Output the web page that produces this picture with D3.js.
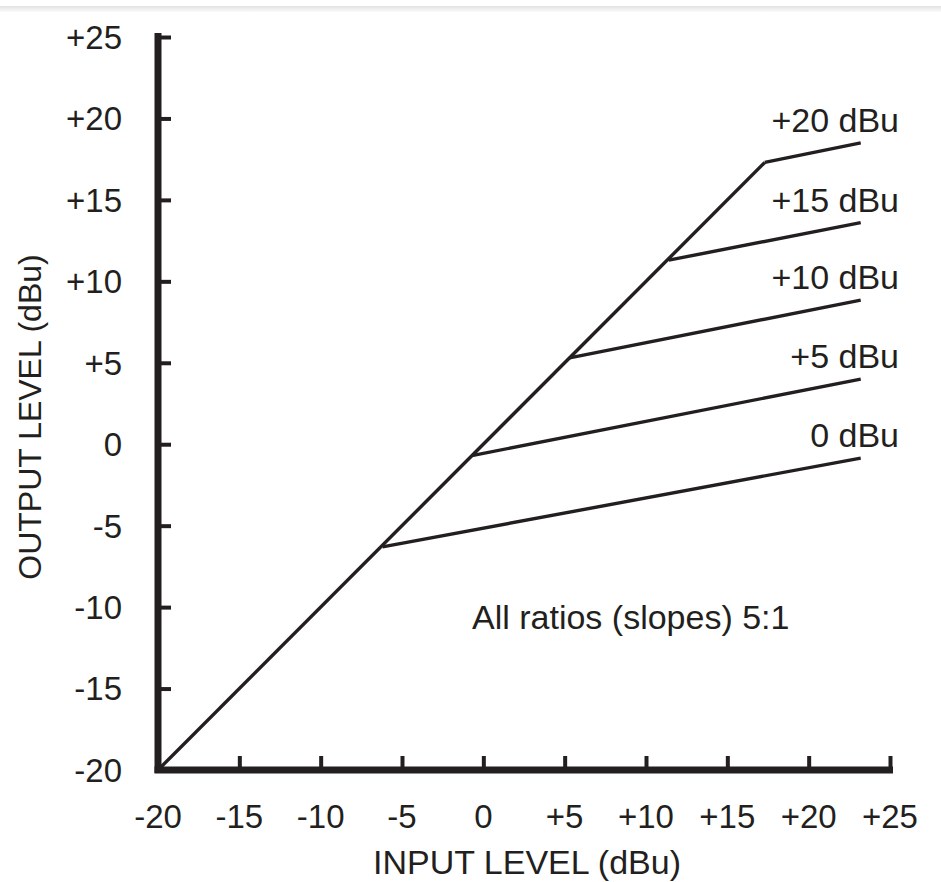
<!DOCTYPE html>
<html>
<head>
<meta charset="utf-8">
<script src="https://cdn.jsdelivr.net/npm/d3@7"></script>
<style>
  html, body { margin: 0; padding: 0; background: #fff; }
  svg { display: block; font-family: "Liberation Sans", Arial, sans-serif; }
</style>
</head>
<body>
<div id="chart"></div>
<script>
// 阈值曲线数据
const curveLabels = ['0 dBu', '+5 dBu', '+10 dBu', '+15 dBu', '+20 dBu'];
const kneeIn = [-6.2, -0.7, 5.3, 11.4, 17.3];
const kneeOut = [-6.3, -0.7, 5.3, 11.3, 17.3];
const endIn = [23.2, 23.2, 23.2, 23.2, 23.2];
const endOut = [-0.85, 4.0, 8.85, 13.6, 18.5];

// 坐标轴刻度
const tickValues = [-20, -15, -10, -5, 0, 5, 10, 15, 20, 25];
const tickLabels = ['-20', '-15', '-10', '-5', '0', '+5', '+10', '+15', '+20', '+25'];

const width = 941, height = 882;
const ink = '#231f20';

const svg = d3.select('#chart').append('svg')
    .attr('width', width)
    .attr('height', height);

// 顶部浅灰阴影条
const grad = svg.append('defs').append('linearGradient')
    .attr('id', 'topShade').attr('x1', 0).attr('y1', 0).attr('x2', 0).attr('y2', 1);
grad.append('stop').attr('offset', '0%').attr('stop-color', '#e2e2e2');
grad.append('stop').attr('offset', '100%').attr('stop-color', '#fbfbfb');
svg.append('rect').attr('x', 0).attr('y', 6).attr('width', width).attr('height', 6)
    .attr('fill', 'url(#topShade)');

const x = d3.scaleLinear().domain([-20, 25]).range([158, 890]);
const y = d3.scaleLinear().domain([-20, 25]).range([770, 37]);

// Y 轴
const yAxis = svg.append('g')
    .attr('transform', `translate(${x(-20)},0)`)
    .call(d3.axisRight(y).tickValues(tickValues).tickSize(13).tickFormat(''));
yAxis.select('.domain').remove();
yAxis.selectAll('.tick line').attr('stroke', ink).attr('stroke-width', 4);
svg.append('line')
    .attr('x1', x(-20)).attr('x2', x(-20))
    .attr('y1', y(25) - 4).attr('y2', y(-20) + 3)
    .attr('stroke', ink).attr('stroke-width', 7);

svg.append('g').selectAll('text')
    .data(tickValues)
    .join('text')
    .attr('x', 122)
    .attr('y', d => y(d))
    .attr('dy', '0.36em')
    .attr('text-anchor', 'end')
    .attr('font-size', 33)
    .attr('fill', ink)
    .text((d, i) => tickLabels[i]);

// X 轴
const xAxis = svg.append('g')
    .attr('transform', `translate(0,${y(-20)})`)
    .call(d3.axisTop(x).tickValues(tickValues.slice(1)).tickSize(14).tickFormat(''));
xAxis.select('.domain').remove();
xAxis.selectAll('.tick line').attr('stroke', ink).attr('stroke-width', 4);
svg.append('line')
    .attr('x1', x(-20) - 3.5).attr('x2', x(25) + 3)
    .attr('y1', y(-20)).attr('y2', y(-20))
    .attr('stroke', ink).attr('stroke-width', 7);

svg.append('g').selectAll('text')
    .data(tickValues)
    .join('text')
    .attr('x', d => x(d))
    .attr('y', 828)
    .attr('text-anchor', 'middle')
    .attr('font-size', 33)
    .attr('fill', ink)
    .text((d, i) => tickLabels[i]);

// 轴标题
svg.append('text')
    .attr('x', 527).attr('y', 874)
    .attr('text-anchor', 'middle')
    .attr('font-size', 34)
    .attr('fill', ink)
    .text('INPUT LEVEL (dBu)');

svg.append('text')
    .attr('transform', 'translate(41,417) rotate(-90)')
    .attr('text-anchor', 'middle')
    .attr('font-size', 32)
    .attr('fill', ink)
    .text('OUTPUT LEVEL (dBu)');

// 1:1 直线
const line = d3.line().x(d => x(d[0])).y(d => y(d[1]));
svg.append('path')
    .attr('d', line([[-20, -20], [kneeIn[4], kneeOut[4]]]))
    .attr('fill', 'none')
    .attr('stroke', ink)
    .attr('stroke-width', 3.4);

// 压缩段
svg.append('g').selectAll('path')
    .data(curveLabels)
    .join('path')
    .attr('d', (d, i) => line([[kneeIn[i], kneeOut[i]], [endIn[i], endOut[i]]]))
    .attr('fill', 'none')
    .attr('stroke', ink)
    .attr('stroke-width', 3.4)
    .attr('stroke-linejoin', 'round');

// 曲线标签
svg.append('g').selectAll('text')
    .data(curveLabels)
    .join('text')
    .attr('x', 899)
    .attr('y', (d, i) => y(endOut[i]) - 11)
    .attr('text-anchor', 'end')
    .attr('font-size', 34)
    .attr('fill', ink)
    .text(d => d);

// 注释
svg.append('text')
    .attr('x', 472).attr('y', 629)
    .attr('font-size', 34)
    .attr('fill', ink)
    .text('All ratios (slopes) 5:1');
</script>
</body>
</html>
